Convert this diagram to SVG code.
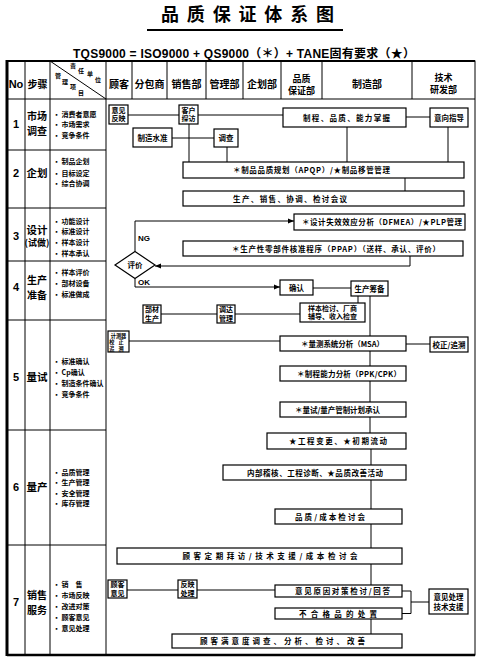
<svg xmlns="http://www.w3.org/2000/svg" width="480" height="660" viewBox="0 0 480 660">
<defs>
<style>
text{font-family:"Noto Sans CJK SC","Noto Sans",sans-serif;font-weight:bold;fill:#000}
.bx{fill:#fff;stroke:#000;stroke-width:1.2}
.ln{fill:none;stroke:#000;stroke-width:1}
.tl{fill:none;stroke:#000;stroke-width:1}
.t{font-size:7.5px;text-anchor:middle}
.t2{font-size:7px;text-anchor:middle}
.sm{font-size:5.2px;text-anchor:middle}
.hd{font-size:10px;text-anchor:middle}
.hd2{font-size:9px;text-anchor:middle}
.st{font-size:10.5px;text-anchor:middle}
.st2{font-size:10px;text-anchor:middle}
.no{font-size:11px;text-anchor:middle;font-family:"Liberation Sans",sans-serif}
.it{font-size:7px}
.lat{font-family:"Liberation Sans",sans-serif;font-size:8px}
</style>
<marker id="ar" viewBox="0 0 6 6" refX="6" refY="3" markerWidth="6" markerHeight="6" orient="auto" markerUnits="userSpaceOnUse"><path d="M0,0.5 L6,3 L0,5.5Z" fill="#000"/></marker>
</defs>
<rect width="480" height="660" fill="#fff"/>

<g id="title">
<text x="161" y="21" font-size="18" textLength="173" lengthAdjust="spacing">品质保证体系图</text>
<line x1="147" y1="30" x2="343" y2="30" stroke="#000" stroke-width="2"/>
<text x="73" y="58" font-size="12" textLength="342" lengthAdjust="spacing" style="font-family:'Liberation Sans','Noto Sans CJK SC',sans-serif">TQS9000 = ISO9000 + QS9000（＊）+ TANE固有要求（★）</text>
</g>

<g id="table">
<rect x="7" y="61" width="468" height="594" class="tl" stroke-width="1.5"/>
<line x1="7" y1="60" x2="7" y2="656" stroke="#000" stroke-width="3"/>
<line x1="7" y1="655" x2="475" y2="655" stroke="#000" stroke-width="2.5"/>
<line x1="7" y1="61" x2="475" y2="61" stroke="#000" stroke-width="2"/>
<path class="tl" d="M7,99H475M25,61V655M50,61V655M106,61V655M132,61V99M167,61V99M206,61V99M243,61V99M281,61V99M322,61V99M412,61V99M50,61L106,99M7,150H106M7,208H106M7,261H106M7,320H106M7,430H106M7,545H106"/>
</g>

<g id="header">
<text x="16" y="88" class="no" font-weight="bold">No</text>
<text x="37.5" y="88" class="hd">步骤</text>
<text font-size="6"><tspan x="70" y="68">责</tspan><tspan x="78" y="73">任</tspan><tspan x="87" y="76">单</tspan><tspan x="95" y="82">位</tspan></text>
<text font-size="6"><tspan x="55" y="78">管</tspan><tspan x="62" y="84">理</tspan><tspan x="70" y="89">项</tspan><tspan x="78" y="95">目</tspan></text>
<text x="119" y="88" class="hd">顾客</text>
<text x="149.5" y="88" class="hd">分包商</text>
<text x="186.5" y="88" class="hd">销售部</text>
<text x="224.5" y="88" class="hd">管理部</text>
<text x="262" y="88" class="hd">企划部</text>
<text class="hd2"><tspan x="301.5" y="82">品质</tspan><tspan x="301.5" y="94">保证部</tspan></text>
<text x="367" y="88" class="hd">制造部</text>
<text class="hd2"><tspan x="443.5" y="81">技术</tspan><tspan x="443.5" y="93">研发部</tspan></text>
</g>

<g id="row1">
<text x="16" y="128" class="no">1</text>
<text class="st2"><tspan x="37" y="120">市场</tspan><tspan x="37" y="134.5">调查</tspan></text>
<text class="it"><tspan x="53" y="116.5">· 消费者意愿</tspan><tspan x="53" y="127">· 市场需求</tspan><tspan x="53" y="138">· 竞争条件</tspan></text>
</g>
<g id="row2">
<text x="16" y="177" class="no">2</text>
<text x="37" y="177" class="st">企划</text>
<text class="it"><tspan x="53" y="163.5">· 制品企划</tspan><tspan x="53" y="175.5">· 目标设定</tspan><tspan x="53" y="186">· 综合协调</tspan></text>
</g>
<g id="row3">
<text x="16" y="240" class="no">3</text>
<text text-anchor="middle"><tspan x="37" y="234" font-size="10.5">设计</tspan><tspan x="37" y="246" font-size="9">(试做)</tspan></text>
<text class="it"><tspan x="53" y="223.5">· 功能设计</tspan><tspan x="53" y="234">· 标准设计</tspan><tspan x="53" y="244.5">· 样本设计</tspan><tspan x="53" y="255.5">· 样本承认</tspan></text>
</g>
<g id="row4">
<text x="16" y="291" class="no">4</text>
<text class="st2"><tspan x="37" y="284">生产</tspan><tspan x="37" y="298.5">准备</tspan></text>
<text class="it"><tspan x="53" y="274.5">· 样本评价</tspan><tspan x="53" y="285.5">· 部材设备</tspan><tspan x="53" y="296.5">· 标准做成</tspan></text>
</g>
<g id="row5">
<text x="16" y="381" class="no">5</text>
<text x="37" y="381" class="st">量试</text>
<text class="it"><tspan x="53" y="363.5">· 标准确认</tspan><tspan x="53" y="374.5">· Cp确认</tspan><tspan x="53" y="385.5">· 制造条件确认</tspan><tspan x="53" y="396.5">· 竞争条件</tspan></text>
</g>
<g id="row6">
<text x="16" y="491" class="no">6</text>
<text x="37" y="491" class="st">量产</text>
<text class="it"><tspan x="53" y="474.5">· 品质管理</tspan><tspan x="53" y="485">· 生产管理</tspan><tspan x="53" y="495.5">· 安全管理</tspan><tspan x="53" y="506">· 库存管理</tspan></text>
</g>
<g id="row7">
<text x="16" y="606" class="no">7</text>
<text class="st2"><tspan x="37" y="599">销售</tspan><tspan x="37" y="613.5">服务</tspan></text>
<text class="it"><tspan x="53" y="587">· 销　售</tspan><tspan x="53" y="598">· 市场反映</tspan><tspan x="53" y="609">· 改进对策</tspan><tspan x="53" y="620">· 顾客意见</tspan><tspan x="53" y="631">· 意见处理</tspan></text>
</g>

<g id="connectors">
<path class="ln" d="M128,115H179M198,115H283M406,117H430M172,138H214M189,124V162M227,147V162M347,127V162M448,127V162M405,178V191"/>
<path class="ln" d="M135,251.5V221H294" marker-end="url(#ar)"/>
<path class="ln" d="M410,256V266H155" marker-end="url(#ar)"/>
<path class="ln" d="M135,278.5V287H280" marker-end="url(#ar)"/>
<path class="ln" d="M313,288H351M358,296V303M370,296V336M161,314H217M235,314H300M129,341H280M406,344H430M370,351V366M370,381V402M370,417V433M371,449V465M371,480V509M371,524V548M371,564V585M127,590H178M197,590H275M402,591H411V613.5H402M411,602H429M371,619V634"/>
</g>

<g id="n_yjfy"><rect class="bx" x="109" y="105" width="19" height="19"/><text class="t2"><tspan x="118.5" y="112.5">意见</tspan><tspan x="118.5" y="121">反映</tspan></text></g>
<g id="n_khtf"><rect class="bx" x="179" y="105" width="19" height="19"/><text class="t2"><tspan x="188.5" y="112.5">客户</tspan><tspan x="188.5" y="121">探访</tspan></text></g>
<g id="n_zcpz"><rect class="bx" x="283" y="108" width="123" height="19"/><text class="t" x="346.5" y="120.5" textLength="87" lengthAdjust="spacing">制程、品质、能力掌握</text></g>
<g id="n_yxzd"><rect class="bx" x="430" y="108" width="38" height="19"/><text class="t" x="449" y="120.5">意向指导</text></g>
<g id="n_zzsz"><rect class="bx" x="133" y="128" width="39" height="19"/><text class="t" x="152.5" y="140.5">制造水准</text></g>
<g id="n_dc"><rect class="bx" x="214" y="129" width="24" height="18"/><text class="t" x="226" y="140.5">调查</text></g>
<g id="n_apqp"><rect class="bx" x="183" y="162" width="281" height="16"/><text class="t" x="311.5" y="173" textLength="157" lengthAdjust="spacing">＊制品品质规划（APQP）/★制品移管管理</text></g>
<g id="n_scxs"><rect class="bx" x="183" y="191" width="281" height="15"/><text class="t" x="290" y="201.5" textLength="114" lengthAdjust="spacing">生产、销售、协调、检讨会议</text></g>
<g id="n_dfmea"><rect class="bx" x="294" y="214" width="171" height="16"/><text class="t" x="382" y="225" textLength="160" lengthAdjust="spacing">＊设计失效效应分析（DFMEA）/★PLP管理</text></g>
<g id="n_ppap"><rect class="bx" x="183" y="241" width="280" height="15"/><text class="t" x="336" y="251.5" textLength="208" lengthAdjust="spacing">＊生产性零部件核准程序（PPAP）（送样、承认、评价）</text></g>
<g id="n_pj"><path class="bx" d="M135,251.5L155,265L135,278.5L115,265Z"/><text class="t" x="135" y="268">评价</text></g>
<g id="lbl_ng"><text class="lat" x="138" y="241">NG</text></g>
<g id="lbl_ok"><text class="lat" x="138" y="285">OK</text></g>
<g id="n_qr"><rect class="bx" x="280" y="280" width="33" height="15"/><text class="t" x="296.5" y="290.5">确认</text></g>
<g id="n_sccb"><rect class="bx" x="351" y="281" width="37" height="15"/><text class="t" x="369.5" y="291.5">生产筹备</text></g>
<g id="n_ybjt"><rect class="bx" x="300" y="303" width="65" height="19"/><text class="t2"><tspan x="332.5" y="310.5">样本检讨、厂商</tspan><tspan x="332.5" y="319">辅导、收入检查</tspan></text></g>
<g id="n_bcsc"><rect class="bx" x="143" y="305" width="18" height="18"/><text class="t2"><tspan x="152" y="312">部材</tspan><tspan x="152" y="320.5">生产</tspan></text></g>
<g id="n_ddgl"><rect class="bx" x="217" y="305" width="18" height="18"/><text class="t2"><tspan x="226" y="312">调达</tspan><tspan x="226" y="320.5">管理</tspan></text></g>
<g id="n_jcq"><rect class="bx" x="108" y="331" width="21" height="21"/><text class="sm"><tspan x="118.5" y="337.5">计测器</tspan><tspan x="118.5" y="344" letter-spacing="4">校正</tspan><tspan x="118.5" y="350.5" letter-spacing="4">追溯</tspan></text></g>
<g id="n_msa"><rect class="bx" x="280" y="336" width="126" height="15"/><text class="t" x="342.5" y="346.5" textLength="83" lengthAdjust="spacing">＊量测系统分析（MSA）</text></g>
<g id="n_jzzs"><rect class="bx" x="430" y="337" width="38" height="15"/><text class="t" x="449" y="347.5">校正/追溯</text></g>
<g id="n_ppk"><rect class="bx" x="280" y="366" width="126" height="15"/><text class="t" x="349" y="376.5" textLength="104" lengthAdjust="spacing">＊制程能力分析（PPK/CPK）</text></g>
<g id="n_lsgz"><rect class="bx" x="280" y="402" width="126" height="15"/><text class="t" x="337.5" y="412.5" textLength="85" lengthAdjust="spacing">＊量试/量产管制计划承认</text></g>
<g id="n_gcbg"><rect class="bx" x="267" y="433" width="139" height="16"/><text class="t" x="338" y="444" textLength="98" lengthAdjust="spacing">★工程变更、★初期流动</text></g>
<g id="n_nbjh"><rect class="bx" x="223" y="465" width="183" height="15"/><text class="t" x="315" y="475.5" textLength="136" lengthAdjust="spacing">内部稽核、工程诊断、★品质改善活动</text></g>
<g id="n_pzcb"><rect class="bx" x="275" y="509" width="127" height="15"/><text class="t" x="330" y="519.5" textLength="70" lengthAdjust="spacing">品质/成本检讨会</text></g>
<g id="n_gkdq"><rect class="bx" x="117" y="548" width="285" height="16"/><text class="t" x="270" y="559" textLength="175" lengthAdjust="spacing">顾客定期拜访/技术支援/成本检讨会</text></g>
<g id="n_gkyj"><rect class="bx" x="108" y="580" width="19" height="18"/><text class="t2"><tspan x="117.5" y="587">顾客</tspan><tspan x="117.5" y="595.5">意见</tspan></text></g>
<g id="n_fycl"><rect class="bx" x="178" y="580" width="19" height="18"/><text class="t2"><tspan x="187.5" y="587">反映</tspan><tspan x="187.5" y="595.5">处理</tspan></text></g>
<g id="n_yjyy"><rect class="bx" x="275" y="585" width="127" height="12"/><text class="t" x="342.5" y="594" textLength="95" lengthAdjust="spacing">意见原因对策检讨/回答</text></g>
<g id="n_bhgp"><rect class="bx" x="275" y="608" width="127" height="11"/><text class="t" x="338" y="616.5" textLength="78" lengthAdjust="spacing">不合格品的处置</text></g>
<g id="n_yjcl"><rect class="bx" x="429" y="589" width="39" height="25"/><text class="t"><tspan x="448.5" y="599.5">意见处理</tspan><tspan x="448.5" y="609.5">技术支援</tspan></text></g>
<g id="n_gkmy"><rect class="bx" x="172" y="634" width="230" height="14"/><text class="t" x="282.5" y="644" textLength="165" lengthAdjust="spacing">顾客满意度调查、分析、检讨、改善</text></g>
</svg>
